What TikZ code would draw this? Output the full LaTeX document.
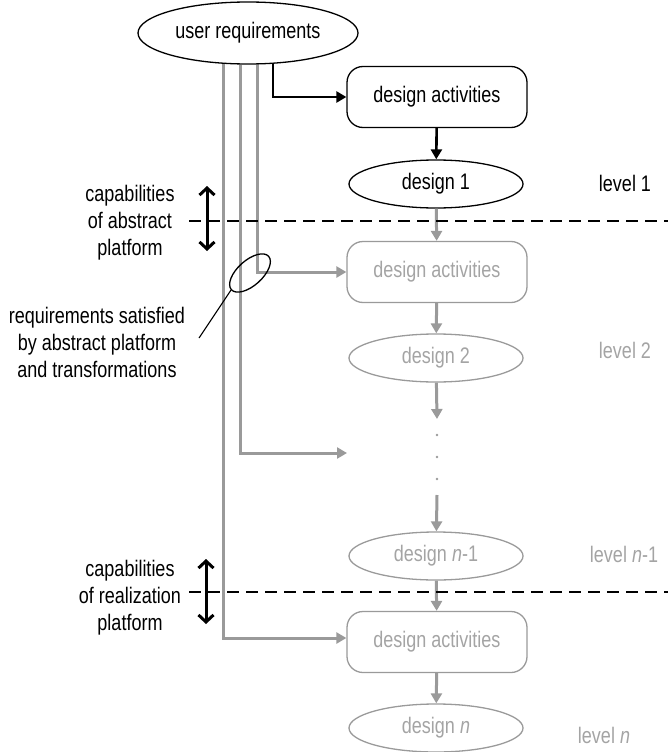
\documentclass[tikz,border=0pt]{standalone}
\usepackage{fontspec}
\setmainfont[FakeStretch=0.8]{Liberation Sans}
\usetikzlibrary{arrows.meta,shapes.geometric}
\definecolor{ghost}{HTML}{9A9A9A}
\definecolor{ghosttext}{HTML}{A4A4A4}
\begin{document}
\begin{tikzpicture}[x=1pt,y=-1pt,
  font=\fontsize{22.5}{27}\selectfont,
  actbox/.style={draw,rectangle,rounded corners=16pt,minimum width=180pt,minimum height=61pt,line width=1.3pt,inner sep=0pt},
  dsgn/.style={draw,ellipse,minimum width=174pt,minimum height=48pt,line width=1.3pt,inner sep=0pt},
  faded/.style={draw=ghost,text=ghosttext},
  lvl/.style={inner sep=0pt},
  blkarrow/.style={line width=2.6pt,-{Triangle[length=10pt,width=11pt]}},
  gryarrow/.style={draw=ghost,line width=3pt,-{Triangle[length=10pt,width=11pt]},ghost},
  dashline/.style={line width=2.6pt,dash pattern=on 12pt off 7pt},
  dblarrow/.style={line width=3pt,{Straight Barb[length=7pt,width=15pt]}-{Straight Barb[length=7pt,width=15pt]}},
  notetext/.style={align=center,inner sep=0pt},
  dot/.style={circle,fill=ghost,inner sep=0pt,minimum size=2.8pt}]
\useasboundingbox (0,0) rectangle (668,752);

% source of all requirements
\node[draw,ellipse,minimum width=220pt,minimum height=62pt,line width=1.3pt,inner sep=0pt] (ur) at (248,33) {user requirements};

% first level (black)
\node[actbox] (da1) at (437,97) {design activities};
\node[dsgn] (d1) at (436,184) {design 1};
\node[lvl] (l1) at (625,183) {level 1};

% second level (grey)
\node[actbox,faded] (da2) at (437,272) {design activities};
\node[dsgn,faded] (d2) at (436,358) {design 2};
\node[lvl,text=ghosttext] (l2) at (625,350) {level 2};

% intermediate levels
\coordinate (c1) at (437,419);
\node[dot] (dt1) at (437,435) {};
\node[dot] (dt2) at (437,457) {};
\node[dot] (dt3) at (437,479) {};
\coordinate (c2) at (437,495);
\coordinate (skip) at (347,453);

% last levels
\node[dsgn,faded] (dn1) at (436,556) {design \textit{n}-1};
\node[lvl,text=ghosttext] (ln1) at (624,554) {level \textit{n}-1};
\node[actbox,faded] (da3) at (437,642) {design activities};
\node[dsgn,faded] (dn) at (436,728) {design \textit{n}};
\node[lvl,text=ghosttext] (ln) at (604,735) {level \textit{n}};

% requirement flows
\coordinate (r0) at ([xshift=25pt,yshift=0.8pt]ur.south);
\coordinate (r1) at ([xshift=9pt]ur.south);
\coordinate (r2) at ([xshift=-8pt]ur.south);
\coordinate (r3) at ([xshift=-25pt,yshift=0.8pt]ur.south);
\draw[gryarrow] (r1) |- (da2.west);
\draw[gryarrow] (r2) |- (skip);
\draw[gryarrow] (r3) |- ([yshift=4pt]da3.west);
\draw[blkarrow] (r0) |- (da1.west);

% design chain
\draw[blkarrow] (da1) -- (d1);
\draw[gryarrow] (d1) -- (da2);
\draw[gryarrow] (da2) -- (d2);
\draw[gryarrow] (d2) -- (c1);
\draw[gryarrow] (c2) -- (dn1);
\draw[gryarrow] (dn1) -- (da3);
\draw[gryarrow] (da3) -- (dn);

% platform boundaries
\coordinate (b1a) at (189,221);
\coordinate (b1b) at (668,221);
\coordinate (b2a) at (189,592);
\coordinate (b2b) at (668,592);
\draw[dashline] (b1a) -- (b1b);
\draw[dashline] (b2a) -- (b2b);

\coordinate (u1) at (207,186);
\coordinate (u2) at (207,251);
\coordinate (v1) at (206,559);
\coordinate (v2) at (206,624);
\draw[dblarrow] (u1) -- (u2);
\draw[dblarrow] (v1) -- (v2);

\node[notetext] (cap1) at (130,223) {capabilities\\of abstract\\platform};
\node[notetext] (cap2) at (130,598) {capabilities\\of realization\\platform};

% callout on the satisfied requirements
\node[draw,ellipse,rotate=42,minimum width=50pt,minimum height=25pt,line width=1.3pt,inner sep=0pt] (cl) at (250,273) {};
\node[notetext] (sat) at (97,342) {requirements satisfied\\by abstract platform\\and transformations};
\coordinate (ce) at (199,338);
\draw[line width=1.1pt] (cl.west) -- (ce);
\end{tikzpicture}
\end{document}
